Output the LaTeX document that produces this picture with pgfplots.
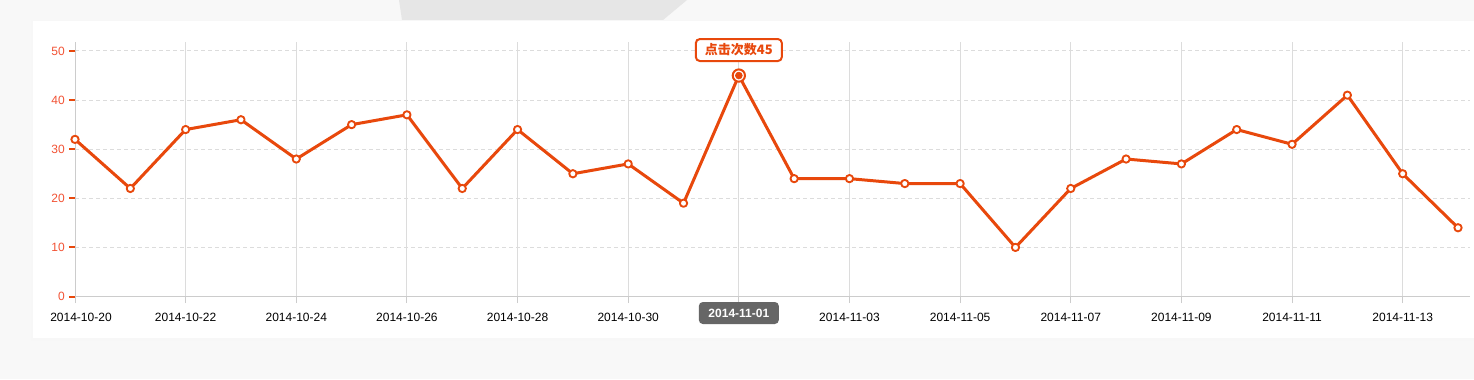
\documentclass[border=0pt]{standalone}
\usepackage{pgfplots}
\pgfplotsset{compat=1.18}
\usepackage{fontspec}
\setmainfont{Liberation Sans}
\newfontfamily\cjk{Noto Sans CJK SC}
\definecolor{lineC}{RGB}{232,72,12}
\definecolor{ylab}{RGB}{242,82,52}
\definecolor{gridC}{RGB}{220,220,220}
\definecolor{pageC}{RGB}{248,248,248}
\definecolor{axisC}{RGB}{204,204,204}
\definecolor{hlC}{RGB}{102,102,102}
\definecolor{topC}{RGB}{230,230,230}
\begin{document}
\begin{tikzpicture}[x=0.75pt,y=0.75pt]
\path[use as bounding box, fill=pageC] (0,0) rectangle (1474,379);
\fill[topC] (399,379) -- (402,359) -- (663,359) -- (687,379) -- cycle;
\fill[black!5] (32,39) rectangle (1474,358);
\fill[black!3] (31,38) rectangle (1474,358.5);
\fill[white] (33,41) rectangle (1474,358);
\coordinate (O) at (75,82.5);
% y axis stuff
\begin{axis}[
  at={(O)}, anchor=south west, scale only axis,
  width=1046.25pt, height=190.875pt,
  xmin=0, xmax=25.217, ymin=0, ymax=51.83,
  axis x line=none, axis y line*=left,
  axis line style={draw=none},
  xtick=\empty,
  ytick={0,10,...,50},
  ymajorgrids,
  major grid style={draw=gridC, line width=0.75pt, dash pattern=on 3pt off 2.25pt},
  tick align=outside, major tick length=4.5pt,
  every tick/.style={draw=lineC, line width=1.5pt},
  /pgf/number format/assume math mode=true,
  yticklabel style={font=\fontsize{9}{10}\selectfont, text=ylab, inner sep=0pt, anchor=east, xshift=-3pt},
]
\end{axis}
% x axis stuff + plot
\begin{axis}[
  at={(O)}, anchor=south west, scale only axis,
  width=1046.25pt, height=190.875pt,
  xmin=0, xmax=25.217, ymin=0, ymax=51.83,
  axis x line*=bottom, axis y line*=left,
  axis line style={draw=axisC, line width=0.75pt, -},
  xtick={0,2,...,24},
  xticklabels={\hspace*{9pt}2014-10-20,2014-10-22,2014-10-24,2014-10-26,2014-10-28,2014-10-30,{},2014-11-03,2014-11-05,2014-11-07,2014-11-09,2014-11-11,2014-11-13},
  ytick=\empty,
  xmajorgrids,
  major grid style={draw=gridC, line width=0.75pt},
  tick align=outside, major tick length=5pt,
  every tick/.style={draw=axisC, line width=0.75pt},
  xticklabel style={font=\fontsize{9}{10}\selectfont, text=black, inner sep=0pt, anchor=north, yshift=-7.5pt},
  clip=false,
]
\addplot[color=lineC, line width=2.25pt, line join=round, mark=*, mark size=2.75pt,
  mark options={fill=white, draw=lineC, line width=1.4pt}]
coordinates {(0,32)(1,22)(2,34)(3,36)(4,28)(5,35)(6,37)(7,22)(8,34)(9,25)(10,27)(11,19)(12,45)(13,24)(14,24)(15,23)(16,23)(17,10)(18,22)(19,28)(20,27)(21,34)(22,31)(23,41)(24,25)(25,14)};
\addplot[only marks, mark=*, mark size=4.6pt, mark options={fill=white, draw=lineC, line width=1.5pt}] coordinates {(12,45)};
\addplot[only marks, mark=*, mark size=2.6pt, mark options={fill=lineC, draw=lineC}] coordinates {(12,45)};
\node[draw=lineC, line width=1.5pt, fill=white, rounded corners=3pt, minimum width=64.5pt, minimum height=16.5pt, inner sep=0pt, font=\cjk\bfseries\fontsize{9.75}{10}\selectfont, text=lineC] at (axis cs:12,45) [yshift=19.125pt] {点击次数45};
\node[fill=hlC, rounded corners=3pt, text=white, font=\bfseries\fontsize{9}{10}\selectfont, minimum width=60pt, minimum height=16.5pt, inner sep=0pt] at (axis cs:12,0) [yshift=-12.375pt] {2014-11-01};
\end{axis}
\end{tikzpicture}
\end{document}
